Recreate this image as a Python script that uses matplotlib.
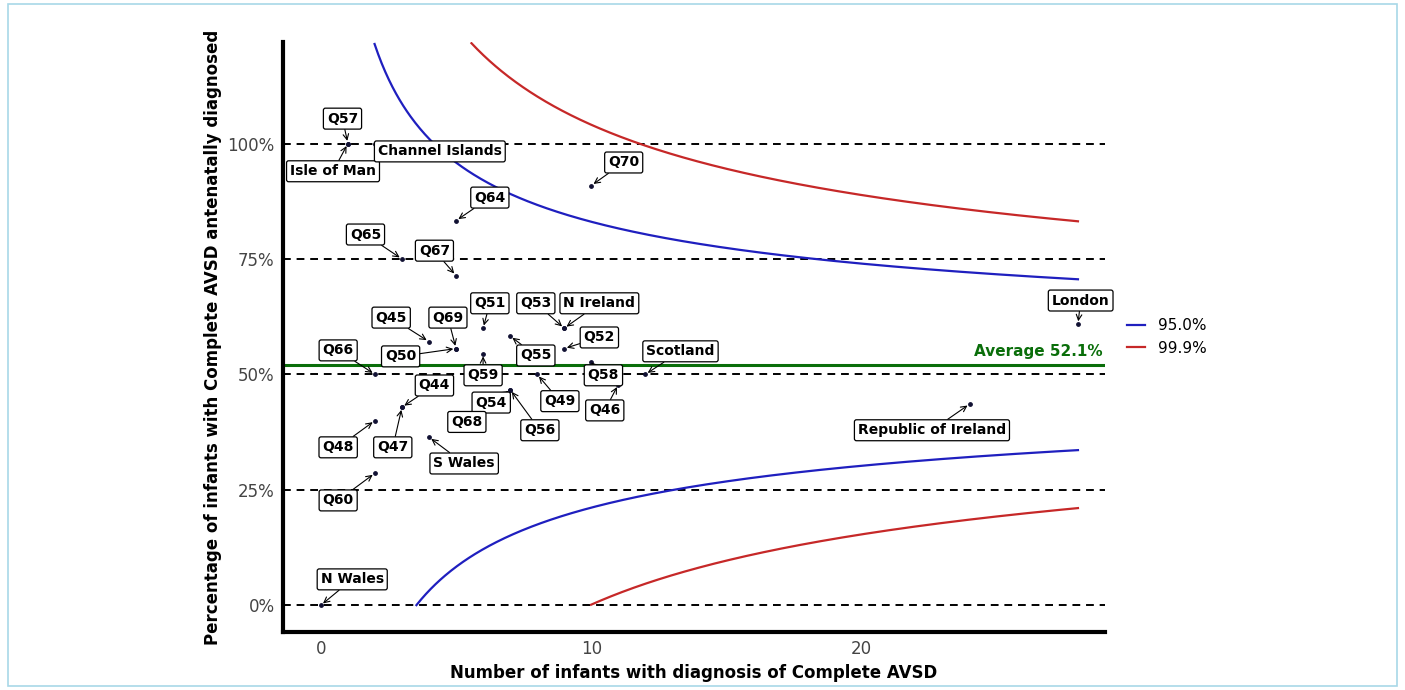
import numpy as np
import matplotlib.pyplot as plt
from matplotlib.patches import Rectangle

names = ['N Wales', 'Q57', 'Isle of Man', 'Channel Islands', 'Q70', 'Q64', 'Q65', 'Q67',
         'Q51', 'Q53', 'N Ireland', 'Q52', 'Q45', 'Q69', 'Q50', 'Q55', 'Q59', 'Q66',
         'Q49', 'Q58', 'Scotland', 'Q46', 'Q44', 'Q47', 'Q54', 'Q56', 'Q68', 'Q48',
         'S Wales', 'Q60', 'Republic of Ireland', 'London']
# x = number diagnosed, y = percent antenatally diagnosed
xs = [0, 1, 1, 2, 10, 5, 3, 5, 6, 9, 9, 9, 4, 5, 5, 7, 6, 2, 8, 10, 12, 11, 3, 3, 7, 7, 5, 2, 4, 2, 24, 28]
ys = [0, 100, 100, 100, 90.9, 83.3, 75, 71.4, 60, 60, 60, 55.6, 57.1, 55.6, 55.6, 58.3, 54.5, 50,
      50, 52.6, 50, 47.8, 42.9, 42.9, 46.7, 46.7, 40, 40, 36.4, 28.6, 43.6, 60.9]
avg = 52.1

# label offsets (dx in units, dy in %)
offsets = [(1.16, 5.6), (-0.2, 5.4), (-0.55, -6), (2.4, -1.7), (1.2, 5), (1.25, 5), (-1.35, 5.3), (-0.8, 5.4),
           (0.25, 5.4), (-1.05, 5.4), (1.3, 5.4), (1.3, 2.4), (-1.4, 5.2), (-0.3, 6.7), (-2.05, -1.7),
           (0.95, -4.2), (0, -4.7), (-1.36, 5.2), (0.84, -5.8), (0.45, -2.8), (1.3, 5), (-0.5, -5.6),
           (1.2, 4.7), (-0.34, -8.7), (-0.7, -2.8), (1.1, -8.8), (0.4, -0.3), (-1.36, -5.8),
           (1.3, -5.7), (-1.36, -5.9), (-1.4, -5.7), (0.1, 5.1)]

fig = plt.figure(figsize=(14.05, 6.9), dpi=100)
fig.patches.append(Rectangle((0.006, 0.006), 0.988, 0.988, transform=fig.transFigure,
                             fill=False, edgecolor='#a8d8e8', lw=1.2))
ax = fig.add_axes([283/1405, 58/690, 822/1405, 590/690])

p = avg / 100
n = np.linspace(1.5, 28, 600)
for z, col, lab in [(1.96, '#1f1fbf', '95.0%'), (3.29, '#c62828', '99.9%')]:
    se = np.sqrt(p * (1 - p) / n)
    up = (p + z * se) * 100
    lo = (p - z * se) * 100
    up[up > 122] = np.nan
    lo[lo < 0] = np.nan
    ax.plot(n, up, color=col, lw=1.6, label=lab)
    ax.plot(n, lo, color=col, lw=1.6)

for yv in [0, 25, 50, 75, 100]:
    ax.axhline(yv, color='black', ls=(0, (4, 3)), lw=1.4, zorder=1)
ax.axhline(avg, color='#0a6e0a', lw=2.2, zorder=2)
ax.text(28.9, avg + 1.2, 'Average 52.1%', color='#0a6e0a', fontsize=11, fontweight='bold',
        ha='right', va='bottom')

ax.scatter(xs, ys, s=6, color='#111133', zorder=4)
for nm, x, y, (dx, dy) in zip(names, xs, ys, offsets):
    ax.annotate(nm, (x, y), xytext=(x + dx, y + dy), fontsize=10, fontweight='bold',
                ha='center', va='center', zorder=5,
                bbox=dict(boxstyle='round,pad=0.25,rounding_size=0.15', fc='white', ec='black', lw=0.9),
                arrowprops=dict(arrowstyle='->', color='black', lw=0.8, shrinkA=0, shrinkB=2))

ax.set_xlim(-1.4, 29.0)
ax.set_ylim(-5.8, 122)
ax.set_xticks([0, 10, 20])
ax.set_yticks([0, 25, 50, 75, 100])
ax.set_yticklabels(['0%', '25%', '50%', '75%', '100%'])
ax.tick_params(labelsize=12, colors='#444444', length=0, pad=6)
for s in ['top', 'right']:
    ax.spines[s].set_visible(False)
for s in ['left', 'bottom']:
    ax.spines[s].set_linewidth(3)
ax.set_xlabel('Number of infants with diagnosis of Complete AVSD', fontsize=12, fontweight='bold')
ax.set_ylabel('Percentage of infants with Complete AVSD antenatally diagnosed', fontsize=12, fontweight='bold')
ax.legend(loc='center left', bbox_to_anchor=(1.01, 0.5), frameon=False, fontsize=11,
          handlelength=1.2)

fig.savefig('out.png', dpi=100)
